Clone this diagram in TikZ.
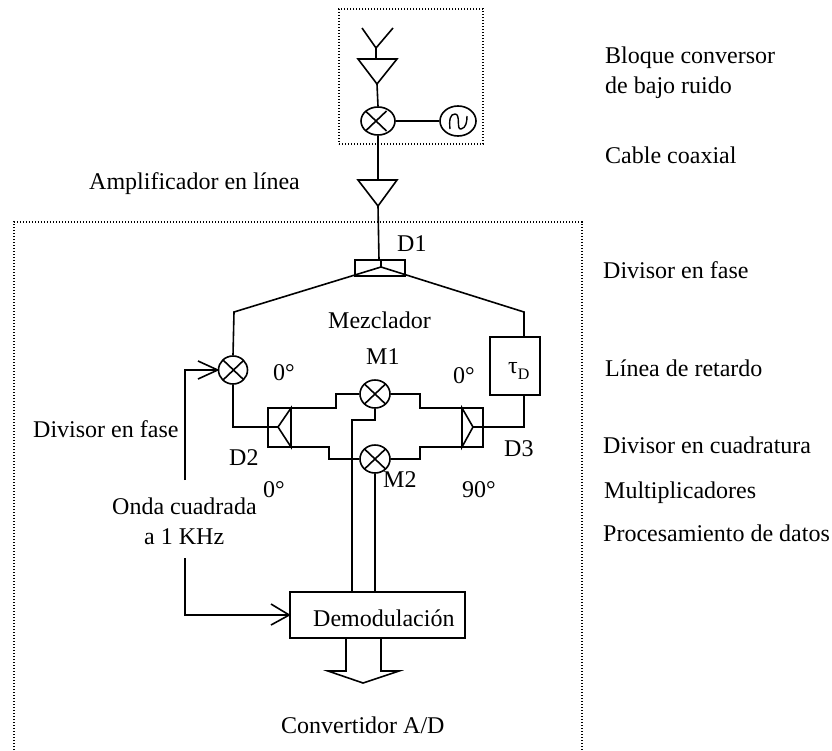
\documentclass[tikz,border=0pt]{standalone}
\usepackage{fontspec}
\setmainfont{Liberation Serif}
\usetikzlibrary{shapes.geometric}
\tikzset{
  wire/.style={line width=1.6pt,line join=miter},
  frame/.style={line width=1.2pt,dash pattern=on 1.3pt off 1.7pt},
  mixer/.style={ellipse,draw,line width=1.6pt,inner sep=0pt,minimum width=30pt,minimum height=28pt,
    path picture={\draw[line width=1.6pt] (path picture bounding box.south west)++(4.5pt,4pt) -- ++(21pt,20pt)
      (path picture bounding box.north west)++(4.5pt,-4pt) -- ++(21pt,-20pt);}},
  osc/.style={ellipse,draw,line width=1.6pt,inner sep=0pt,minimum width=36pt,minimum height=30pt},
  blockbox/.style={rectangle,draw,line width=1.6pt,inner sep=0pt},
  lbl/.style={inner sep=0pt,anchor=base west,font=\fontsize{24}{28}\selectfont},
  openhead/.style={line width=1.6pt,line join=miter,miter limit=10}
}
\begin{document}
\begin{tikzpicture}[x=1pt,y=-1pt]
\useasboundingbox (0,0) rectangle (832,750);
% frames
\node[rectangle,draw,frame,inner sep=0pt,minimum width=144pt,minimum height=135pt] (topframe) at (411,76.5) {};
\coordinate (fA) at (14,750); \coordinate (fB) at (14,222); \coordinate (fC) at (582,222); \coordinate (fD) at (582,750);
\draw[frame] (fA) -- (fB) -- (fC) -- (fD);
% antenna and LNB
\coordinate (antL) at (362,28); \coordinate (antB) at (376,48); \coordinate (antR) at (393,28);
\coordinate (a1L) at (358,59); \coordinate (a1R) at (397,59); \coordinate (a1T) at (377,84); \coordinate (a1in) at (376,59);
\draw[wire] (antL) -- (antB) -- (antR);
\draw[wire] (antB) -- (a1in);
\draw[wire] (a1L) -- (a1R) -- (a1T) -- cycle;
\node[mixer,minimum width=34pt] (mx0) at (378,121) {};
\node[osc] (lo) at (458,121) {};
\draw[wire,line width=1.4pt] (450,129) .. controls (449,120) and (450,114) .. (455,114) .. controls (461,114) and (456,130) .. (461,129) .. controls (466,128) and (467,122) .. (467,116);
\draw[wire] (a1T) -- (mx0.north);
\draw[wire] (mx0.east) -- (lo.west);
\coordinate (a2L) at (358,180); \coordinate (a2R) at (397,180); \coordinate (a2T) at (378,206); \coordinate (a2top) at (378,180);
\draw[wire] (mx0.south) -- (a2top);
\draw[wire] (a2L) -- (a2R) -- (a2T) -- cycle;
% D1
\node[blockbox,minimum width=50pt,minimum height=16pt] (d1) at (380,268) {};
\coordinate (d1in) at (379,260);
\coordinate (d1c) at (381,267);
\draw[wire] (a2T) -- (d1in);
\draw[wire] (d1.north-|d1c) -- (d1c);
\coordinate (ll) at (234,312); \coordinate (rr) at (524,312);
\node[mixer,minimum width=29pt] (mx1) at (233,370) {};
\node[blockbox,minimum width=50pt,minimum height=58pt] (tau) at (515,366) {};
\draw[wire] (mx1.north) -- (ll) -- (d1c) -- (rr) -- (rr|-tau.north);
% D2, D3
\node[blockbox,minimum width=23pt,minimum height=39pt] (d2) at (279.5,427.5) {};
\node[blockbox,minimum width=21pt,minimum height=39pt] (d3) at (472.5,427.5) {};
\coordinate (d2a) at (278,427); \coordinate (d2t) at (291,408); \coordinate (d2b) at (291,447);
\coordinate (d3a) at (473,427); \coordinate (d3t) at (462,408); \coordinate (d3b) at (462,447);
\draw[wire] (d2t) -- (d2a) -- (d2b) -- cycle;
\draw[wire] (d3t) -- (d3a) -- (d3b) -- cycle;
\coordinate (k1) at (233,427);
\draw[wire] (mx1.south) -- (k1) -- (d2a);
\coordinate (k2) at (524,427);
\draw[wire] (d3a) -- (k2) -- (k2|-tau.south);
% M1, M2
\node[mixer] (m1) at (375,394) {};
\node[mixer] (m2) at (375,459) {};
\coordinate (u1) at (336,408); \coordinate (u2) at (336,394);
\coordinate (u3) at (420,394); \coordinate (u4) at (420,408);
\coordinate (v1) at (329,447); \coordinate (v2) at (329,459);
\coordinate (v3) at (420,459); \coordinate (v4) at (420,447);
\draw[wire] (d2t) -- (u1) -- (u2) -- (m1.west);
\draw[wire] (m1.east) -- (u3) -- (u4) -- (d3t);
\draw[wire] (d2b) -- (v1) -- (v2) -- (m2.west);
\draw[wire] (m2.east) -- (v3) -- (v4) -- (d3b);
% demod
\node[blockbox,minimum width=175pt,minimum height=46pt] (dem) at (377.5,615) {};
\coordinate (w1) at (375,420); \coordinate (w2) at (352,420);
\draw[wire] (m1.south) -- (w1) -- (w2) -- (w2|-dem.north);
\draw[wire] (m2.south) -- (m2.south|-dem.north);
% square wave arrows
\coordinate (s1) at (185,480); \coordinate (s2) at (185,370);
\draw[wire] (s1) -- (s2) -- (mx1.west);
\coordinate (h1a) at (198,361); \coordinate (h1b) at (198,379);
\draw[openhead] (h1a) -- (mx1.west) -- (h1b);
\coordinate (s3) at (185,558); \coordinate (s4) at (185,615);
\draw[wire] (s3) -- (s4) -- (dem.west);
\coordinate (h2a) at (271,604); \coordinate (h2b) at (271,625);
\draw[openhead] (h2a) -- (dem.west) -- (h2b);
% output arrow
\coordinate (o1) at (346,638); \coordinate (o2) at (346,671); \coordinate (o3) at (328,671);
\coordinate (o4) at (363,683); \coordinate (o5) at (399,671); \coordinate (o6) at (381,671); \coordinate (o7) at (381,638);
\draw[wire] (o1) -- (o2) -- (o3) -- (o4) -- (o5) -- (o6) -- (o7);
% labels
\node[lbl] (t1) at (605,63) {Bloque conversor};
\node[lbl] (t2) at (605,93) {de bajo ruido};
\node[lbl] (t3) at (605,163) {Cable coaxial};
\node[lbl] (t4) at (89,189) {Amplificador en línea};
\node[lbl] (t5) at (603,278) {Divisor en fase};
\node[lbl] (t6) at (605,376) {Línea de retardo};
\node[lbl] (t7) at (603,453) {Divisor en cuadratura};
\node[lbl] (t8) at (604,498) {Multiplicadores};
\node[lbl] (t9) at (603,541) {Procesamiento de datos};
\node[lbl] (t10) at (33,437) {Divisor en fase};
\node[lbl] (t11) at (112,514) {Onda cuadrada};
\node[lbl] (t12) at (144,544) {a 1 KHz};
\node[lbl] (l1) at (397,251) {D1};
\node[lbl] (l2) at (328,328) {Mezclador};
\node[lbl] (l3) at (366,364) {M1};
\node[lbl] (l4) at (273,380) {0°};
\node[lbl] (l5) at (453,383) {0°};
\node[lbl] (l6) at (229,465) {D2};
\node[lbl] (l7) at (504,456) {D3};
\node[lbl] (l8) at (263,497) {0°};
\node[lbl] (l9) at (383,487) {M2};
\node[lbl] (l10) at (462,497) {90°};
\node[lbl] (l11) at (313,626) {Demodulación};
\node[lbl] (l12) at (281,733) {Convertidor A/D};
\node[lbl] (l13) at (508,373) {τ\raisebox{-6pt}{\fontsize{16}{18}\selectfont D}};
\end{tikzpicture}
\end{document}
